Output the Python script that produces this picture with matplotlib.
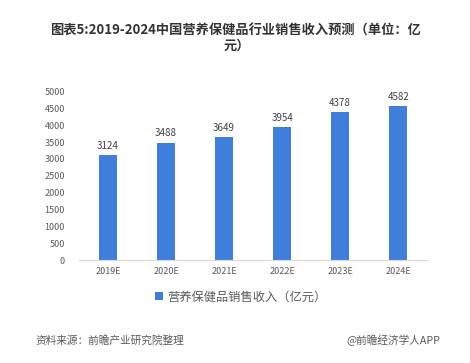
import matplotlib.pyplot as plt

plt.rcParams['font.family'] = ['Noto Sans CJK SC', 'DejaVu Sans']

years = ['2019E', '2020E', '2021E', '2022E', '2023E', '2024E']
revenue = [3124, 3488, 3649, 3954, 4378, 4582]
yticks = [0, 500, 1000, 1500, 2000, 2500, 3000, 3500, 4000, 4500, 5000]

bar_color = '#3F7FDB'
text_color = '#404040'

fig = plt.figure(figsize=(4.7, 3.63), dpi=100)
ax = fig.add_axes([0.168, 0.283, 0.741, 0.465])

x = range(len(years))
bars = ax.bar(x, revenue, width=0.31, color=bar_color, label='营养保健品销售收入（亿元）')
for xi, v in zip(x, revenue):
    ax.text(xi, v + 120, str(v), ha='center', va='bottom', fontsize=7, color=text_color)

ax.set_xlim(-0.5, len(years) - 0.5)
ax.set_ylim(0, 5000)
ax.set_yticks(yticks)
ax.set_xticks(list(x))
ax.set_xticklabels(years)
ax.tick_params(axis='both', length=0, labelsize=6.5, labelcolor='#595959')
ax.tick_params(axis='y', pad=10)
ax.tick_params(axis='x', pad=5)
for side in ['top', 'right', 'left']:
    ax.spines[side].set_visible(False)
ax.spines['bottom'].set_color('#D9D9D9')

fig.text(0.5, 0.915, '图表5:2019-2024中国营养保健品行业销售收入预测（单位：亿',
         ha='center', va='center', fontsize=9.5, fontweight='bold', color='#333333')
fig.text(0.505, 0.874, '元）', ha='center', va='center', fontsize=9.5, fontweight='bold', color='#333333')

fig.legend(handles=[bars], loc='center', bbox_to_anchor=(0.512, 0.182), frameon=False,
           fontsize=8.8, handlelength=0.6, handleheight=0.6, handletextpad=0.35,
           labelcolor='#595959')

fig.text(0.075, 0.063, '资料来源：前瞻产业研究院整理', ha='left', va='center',
         fontsize=7.7, style='italic', color='#595959')
fig.text(0.937, 0.063, '@前瞻经济学人APP', ha='right', va='center',
         fontsize=7.7, color='#595959')

fig.savefig('out.png', dpi=100)
